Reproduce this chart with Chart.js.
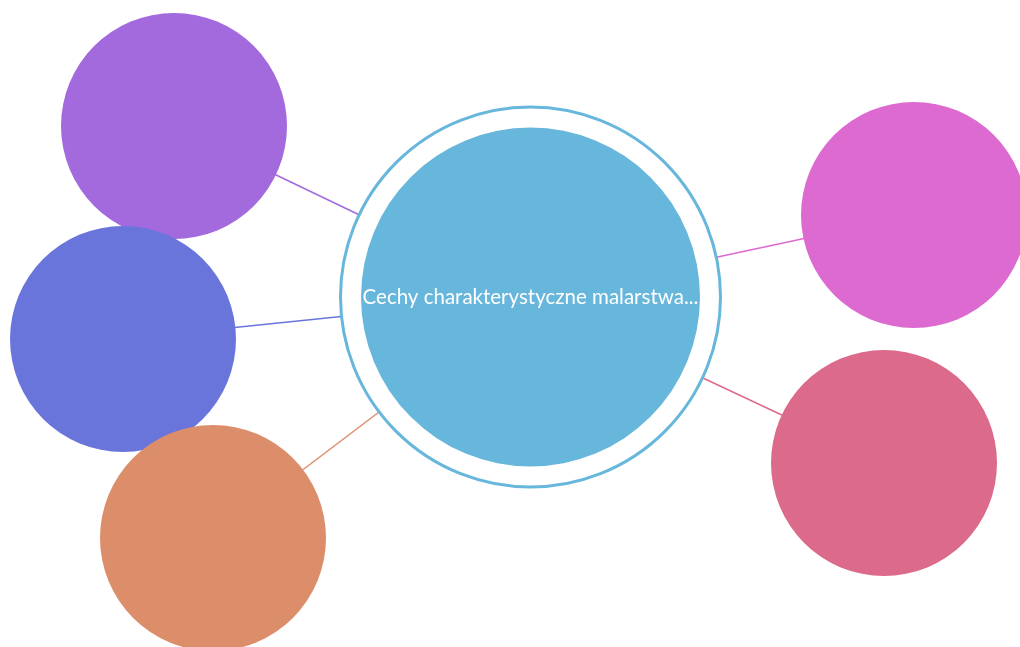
<!DOCTYPE html>
<html lang="pl">
<head>
    <meta charset="UTF-8">
    <title>Mapa myśli</title>
    <script src="https://cdn.jsdelivr.net/npm/chart.js"></script>
    <style>
        html, body { margin: 0; padding: 0; background: #fff; }
        #wrap { width: 1020px; height: 647px; position: relative; }
    </style>
</head>
<body>
<div id="wrap"><canvas id="mindmap"></canvas></div>
<script>
// wezly mapy: srodek + 5 galezi
const nodeLabels = ['Cechy charakterystyczne malarstwa...', '', '', '', '', ''];
const nodeX = [530.5, 174, 123, 213, 914, 884];
const nodeY = [297, 126, 339, 538, 215, 463];
const nodeR = [169.5, 113, 113, 113, 113, 113];
const nodeColors = ['#67b6db', '#a36ade', '#6a75dc', '#dc8e6a', '#dd6ad0', '#dc6a8a'];
const ringR = 190;

const datasets = [];

// linie od srodka do galezi (rysowane najnizej)
for (let i = 1; i < nodeX.length; i++) {
    datasets.push({
        type: 'scatter',
        showLine: true,
        data: [{ x: nodeX[0], y: nodeY[0] }, { x: nodeX[i], y: nodeY[i] }],
        borderColor: nodeColors[i],
        borderWidth: 1.5,
        pointRadius: 0,
        clip: false,
        order: 10
    });
}

// obwodka wokol srodka
datasets.push({
    type: 'bubble',
    data: [{ x: nodeX[0], y: nodeY[0], r: ringR }],
    backgroundColor: '#ffffff',
    borderColor: nodeColors[0],
    borderWidth: 3,
    clip: false,
    order: 5
});

// wezly
datasets.push({
    type: 'bubble',
    data: nodeX.map((x, i) => ({ x: x, y: nodeY[i], r: nodeR[i] })),
    backgroundColor: nodeColors,
    borderWidth: 0,
    clip: false,
    order: 1
});

const labelPlugin = {
    id: 'nodeLabels',
    afterDatasetsDraw(chart) {
        const ctx = chart.ctx;
        const xs = chart.scales.x, ys = chart.scales.y;
        ctx.save();
        ctx.fillStyle = '#ffffff';
        ctx.font = '20.5px Lato, "Open Sans", sans-serif';
        ctx.textAlign = 'center';
        ctx.textBaseline = 'middle';
        nodeLabels.forEach((t, i) => {
            if (!t) return;
            ctx.fillText(t, xs.getPixelForValue(nodeX[i]), ys.getPixelForValue(nodeY[i]));
        });
        ctx.restore();
    }
};

new Chart(document.getElementById('mindmap'), {
    type: 'bubble',
    data: { datasets: datasets },
    options: {
        responsive: true,
        maintainAspectRatio: false,
        animation: false,
        events: [],
        layout: { padding: 0, autoPadding: false },
        plugins: { legend: { display: false }, tooltip: { enabled: false } },
        scales: {
            x: { type: 'linear', min: 0, max: 1020, display: false },
            y: { type: 'linear', min: 0, max: 647, reverse: true, display: false }
        }
    },
    plugins: [labelPlugin]
});
</script>
</body>
</html>
